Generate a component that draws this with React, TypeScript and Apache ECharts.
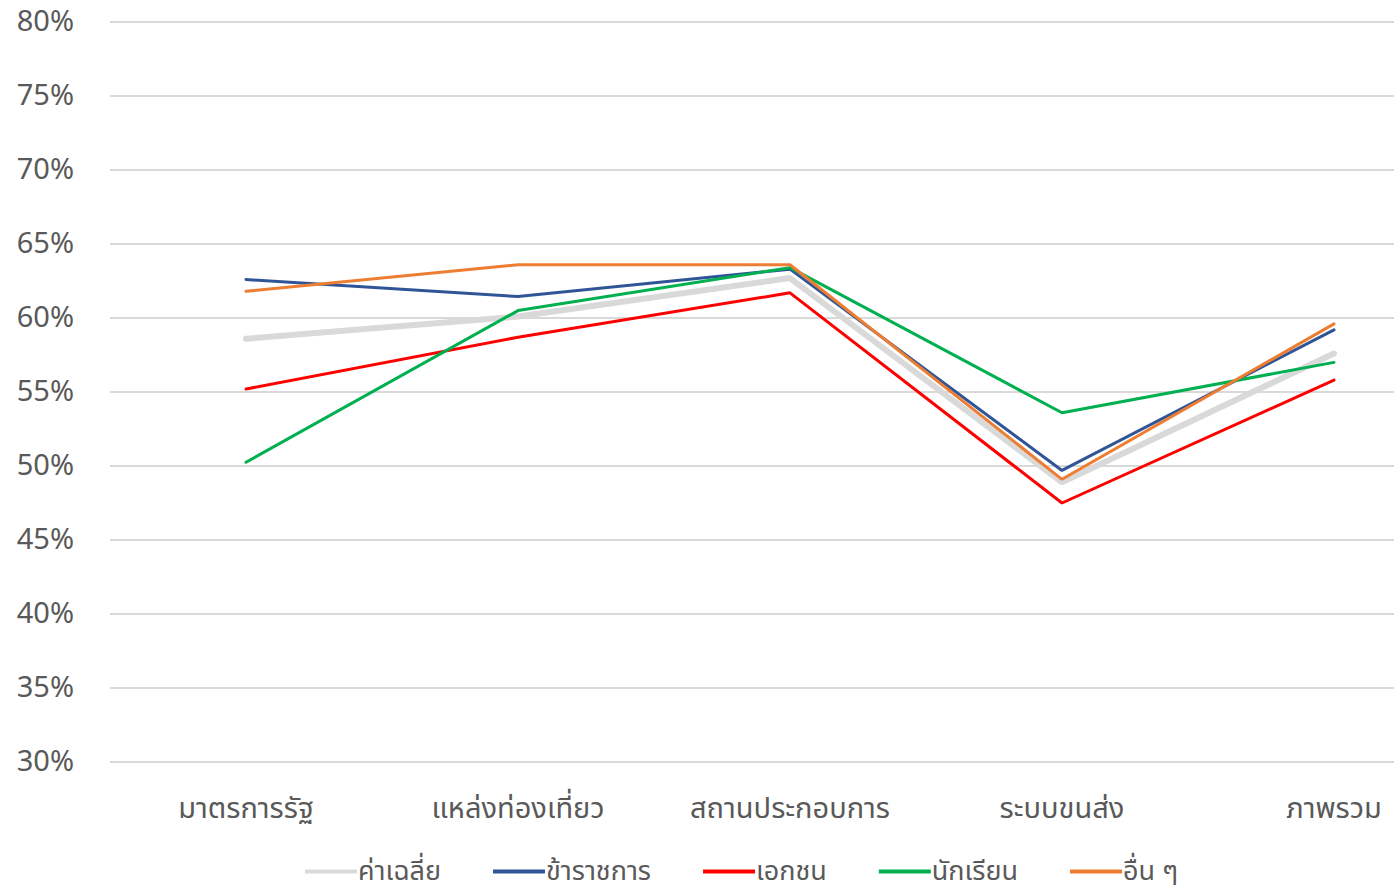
import React, { useEffect, useRef } from "react";
import * as echarts from "echarts";

const categories = ["มาตรการรัฐ", "แหล่งท่องเที่ยว", "สถานประกอบการ", "ระบบขนส่ง", "ภาพรวม"];
const seriesNames = ["ค่าเฉลี่ย", "ข้าราชการ", "เอกชน", "นักเรียน", "อื่น ๆ"];
const avgValues = [58.6, 60.1, 62.7, 48.9, 57.6];
const govValues = [62.6, 61.45, 63.3, 49.7, 59.2];
const privateValues = [55.2, 58.7, 61.7, 47.5, 55.8];
const studentValues = [50.25, 60.5, 63.4, 53.6, 57.0];
const otherValues = [61.8, 63.6, 63.6, 49.1, 59.6];
const seriesColors = ["#d9d9d9", "#2f5597", "#ff0000", "#00b050", "#ed7d31"];
const seriesWidths = [6, 3, 3, 3, 3];

const FONT = "'Noto Sans Thai', 'Noto Sans', sans-serif";

export default function App() {
  const ref = useRef<HTMLDivElement>(null);
  useEffect(() => {
    if (!ref.current) return;
    const chart = echarts.init(ref.current, undefined, { renderer: "svg" });
    const data = [avgValues, govValues, privateValues, studentValues, otherValues];
    chart.setOption({
      animation: false,
      textStyle: { fontFamily: FONT },
      grid: { left: 110, right: 0, top: 22, bottom: 133, containLabel: false },
      legend: {
        left: 300,
        top: 853,
        icon: "rect",
        itemWidth: 52,
        itemHeight: 4,
        itemGap: 52,
        textStyle: {
          fontSize: 27,
          lineHeight: 27,
          color: "#595959",
          fontFamily: FONT,
          padding: [0, 0, 0, -4],
        },
        data: seriesNames,
      },
      xAxis: {
        type: "category",
        data: categories,
        boundaryGap: true,
        axisLine: { show: false },
        axisTick: { show: false },
        axisLabel: { fontSize: 29, color: "#595959", margin: 32, fontFamily: FONT },
      },
      yAxis: {
        type: "value",
        min: 30,
        max: 80,
        interval: 5,
        axisLine: { show: false },
        axisTick: { show: false },
        axisLabel: {
          fontSize: 29,
          color: "#595959",
          margin: 36,
          fontFamily: FONT,
          formatter: (v: number) => `${v}%`,
        },
        splitLine: { lineStyle: { color: "#d9d9d9", width: 2 } },
      },
      series: seriesNames.map((name, i) => ({
        name,
        type: "line",
        data: data[i],
        symbol: "none",
        z: i === 0 ? 1 : 2 + i,
        lineStyle: { color: seriesColors[i], width: seriesWidths[i], cap: "round" },
        itemStyle: { color: seriesColors[i] },
      })),
    });
    return () => chart.dispose();
  }, []);
  return (
    <div
      style={{ position: "fixed", left: 0, top: 0, width: 1394, height: 895, overflow: "hidden", background: "#fff" }}
    >
      <div ref={ref} style={{ width: 1470, height: 895 }} />
    </div>
  );
}
